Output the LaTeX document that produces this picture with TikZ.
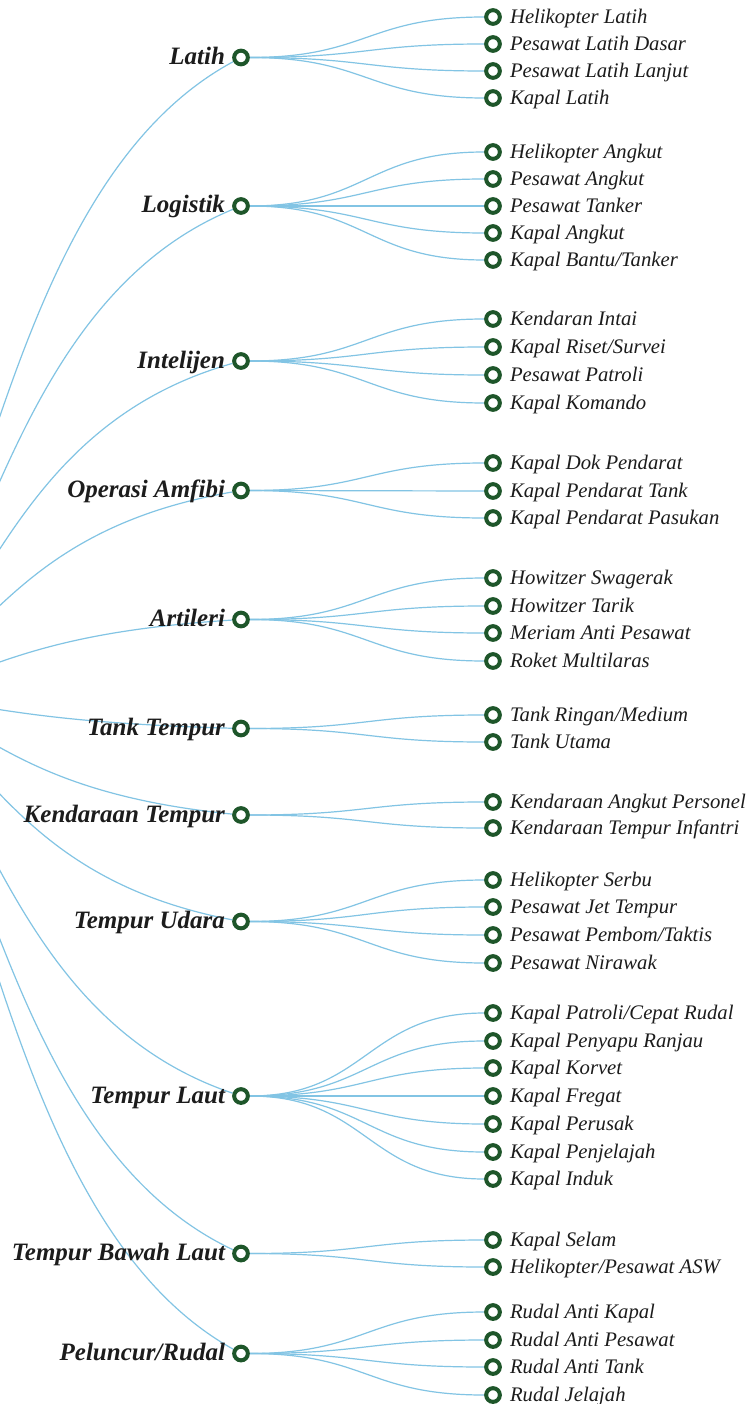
\documentclass[tikz,border=0pt]{standalone}
\usepackage{fontspec}
\setmainfont{Liberation Serif}
\usetikzlibrary{positioning,backgrounds,calc}
\definecolor{ringgreen}{RGB}{30,86,42}
\definecolor{linkblue}{RGB}{130,196,228}
\definecolor{inkblack}{RGB}{28,28,28}
\begin{document}
\begin{tikzpicture}[x=1pt,y=-1pt,
        ring/.style={circle,draw=ringgreen,fill=white,line width=4pt,minimum size=13.7pt,inner sep=0pt},
        cattext/.style={inner sep=0pt,text=inkblack,font=\fontsize{25}{29}\selectfont\bfseries\itshape,text height=16pt,text depth=2pt},
        leaftext/.style={inner sep=0pt,text=inkblack,font=\fontsize{20.7}{24}\selectfont\itshape,text height=15pt,text depth=2pt},
        link/.style={draw=linkblue,line width=1.2pt}]
                        \useasboundingbox (0,0) rectangle (752,1404);
                        \coordinate (root) at (-150,695);

                        \node[ring] (latih) at (241,57.5) {};
                        \node[cattext,left=7pt of latih] (latiht) {Latih};
                        \node[ring] (latih1) at (493,17) {};
                        \node[ring] (latih2) at (493,44) {};
                        \node[ring] (latih3) at (493,71) {};
                        \node[ring] (latih4) at (493,98) {};
                        \node[leaftext,right=8pt of latih1] (latih1t) {Helikopter Latih};
                        \node[leaftext,right=8pt of latih2] (latih2t) {Pesawat Latih Dasar};
                        \node[leaftext,right=8pt of latih3] (latih3t) {Pesawat Latih Lanjut};
                        \node[leaftext,right=8pt of latih4] (latih4t) {Kapal Latih};

                        \node[ring] (logistik) at (241,206) {};
                        \node[cattext,left=7pt of logistik] (logistikt) {Logistik};
                        \node[ring] (logistik1) at (493,152) {};
                        \node[ring] (logistik2) at (493,179) {};
                        \node[ring] (logistik3) at (493,206) {};
                        \node[ring] (logistik4) at (493,233) {};
                        \node[ring] (logistik5) at (493,260) {};
                        \node[leaftext,right=8pt of logistik1] (logistik1t) {Helikopter Angkut};
                        \node[leaftext,right=8pt of logistik2] (logistik2t) {Pesawat Angkut};
                        \node[leaftext,right=8pt of logistik3] (logistik3t) {Pesawat Tanker};
                        \node[leaftext,right=8pt of logistik4] (logistik4t) {Kapal Angkut};
                        \node[leaftext,right=8pt of logistik5] (logistik5t) {Kapal Bantu/Tanker};

                        \node[ring] (intel) at (241,361) {};
                        \node[cattext,left=7pt of intel] (intelt) {Intelijen};
                        \node[ring] (intel1) at (493,319) {};
                        \node[ring] (intel2) at (493,347) {};
                        \node[ring] (intel3) at (493,375) {};
                        \node[ring] (intel4) at (493,403) {};
                        \node[leaftext,right=8pt of intel1] (intel1t) {Kendaran Intai};
                        \node[leaftext,right=8pt of intel2] (intel2t) {Kapal Riset/Survei};
                        \node[leaftext,right=8pt of intel3] (intel3t) {Pesawat Patroli};
                        \node[leaftext,right=8pt of intel4] (intel4t) {Kapal Komando};

                        \node[ring] (amfibi) at (241,490.5) {};
                        \node[cattext,left=7pt of amfibi] (amfibit) {Operasi Amfibi};
                        \node[ring] (amfibi1) at (493,463) {};
                        \node[ring] (amfibi2) at (493,491) {};
                        \node[ring] (amfibi3) at (493,518) {};
                        \node[leaftext,right=8pt of amfibi1] (amfibi1t) {Kapal Dok Pendarat};
                        \node[leaftext,right=8pt of amfibi2] (amfibi2t) {Kapal Pendarat Tank};
                        \node[leaftext,right=8pt of amfibi3] (amfibi3t) {Kapal Pendarat Pasukan};

                        \node[ring] (artileri) at (241,619.5) {};
                        \node[cattext,left=7pt of artileri] (artilerit) {Artileri};
                        \node[ring] (artileri1) at (493,578) {};
                        \node[ring] (artileri2) at (493,606) {};
                        \node[ring] (artileri3) at (493,633) {};
                        \node[ring] (artileri4) at (493,661) {};
                        \node[leaftext,right=8pt of artileri1] (artileri1t) {Howitzer Swagerak};
                        \node[leaftext,right=8pt of artileri2] (artileri2t) {Howitzer Tarik};
                        \node[leaftext,right=8pt of artileri3] (artileri3t) {Meriam Anti Pesawat};
                        \node[leaftext,right=8pt of artileri4] (artileri4t) {Roket Multilaras};

                        \node[ring] (tank) at (241,728.5) {};
                        \node[cattext,left=7pt of tank] (tankt) {Tank Tempur};
                        \node[ring] (tank1) at (493,715) {};
                        \node[ring] (tank2) at (493,742) {};
                        \node[leaftext,right=8pt of tank1] (tank1t) {Tank Ringan/Medium};
                        \node[leaftext,right=8pt of tank2] (tank2t) {Tank Utama};

                        \node[ring] (ranpur) at (241,815) {};
                        \node[cattext,left=7pt of ranpur] (ranpurt) {Kendaraan Tempur};
                        \node[ring] (ranpur1) at (493,802) {};
                        \node[ring] (ranpur2) at (493,828) {};
                        \node[leaftext,right=8pt of ranpur1] (ranpur1t) {Kendaraan Angkut Personel};
                        \node[leaftext,right=8pt of ranpur2] (ranpur2t) {Kendaraan Tempur Infantri};

                        \node[ring] (udara) at (241,921.5) {};
                        \node[cattext,left=7pt of udara] (udarat) {Tempur Udara};
                        \node[ring] (udara1) at (493,880) {};
                        \node[ring] (udara2) at (493,907) {};
                        \node[ring] (udara3) at (493,935) {};
                        \node[ring] (udara4) at (493,963) {};
                        \node[leaftext,right=8pt of udara1] (udara1t) {Helikopter Serbu};
                        \node[leaftext,right=8pt of udara2] (udara2t) {Pesawat Jet Tempur};
                        \node[leaftext,right=8pt of udara3] (udara3t) {Pesawat Pembom/Taktis};
                        \node[leaftext,right=8pt of udara4] (udara4t) {Pesawat Nirawak};

                        \node[ring] (laut) at (241,1096) {};
                        \node[cattext,left=7pt of laut] (lautt) {Tempur Laut};
                        \node[ring] (laut1) at (493,1013) {};
                        \node[ring] (laut2) at (493,1041) {};
                        \node[ring] (laut3) at (493,1068) {};
                        \node[ring] (laut4) at (493,1096) {};
                        \node[ring] (laut5) at (493,1124) {};
                        \node[ring] (laut6) at (493,1152) {};
                        \node[ring] (laut7) at (493,1179) {};
                        \node[leaftext,right=8pt of laut1] (laut1t) {Kapal Patroli/Cepat Rudal};
                        \node[leaftext,right=8pt of laut2] (laut2t) {Kapal Penyapu Ranjau};
                        \node[leaftext,right=8pt of laut3] (laut3t) {Kapal Korvet};
                        \node[leaftext,right=8pt of laut4] (laut4t) {Kapal Fregat};
                        \node[leaftext,right=8pt of laut5] (laut5t) {Kapal Perusak};
                        \node[leaftext,right=8pt of laut6] (laut6t) {Kapal Penjelajah};
                        \node[leaftext,right=8pt of laut7] (laut7t) {Kapal Induk};

                        \node[ring] (bawah) at (241,1253.5) {};
                        \node[cattext,left=7pt of bawah] (bawaht) {Tempur Bawah Laut};
                        \node[ring] (bawah1) at (493,1240) {};
                        \node[ring] (bawah2) at (493,1267) {};
                        \node[leaftext,right=8pt of bawah1] (bawah1t) {Kapal Selam};
                        \node[leaftext,right=8pt of bawah2] (bawah2t) {Helikopter/Pesawat ASW};

                        \node[ring] (rudal) at (241,1353.5) {};
                        \node[cattext,left=7pt of rudal] (rudalt) {Peluncur/Rudal};
                        \node[ring] (rudal1) at (493,1312) {};
                        \node[ring] (rudal2) at (493,1340) {};
                        \node[ring] (rudal3) at (493,1367) {};
                        \node[ring] (rudal4) at (493,1395) {};
                        \node[leaftext,right=8pt of rudal1] (rudal1t) {Rudal Anti Kapal};
                        \node[leaftext,right=8pt of rudal2] (rudal2t) {Rudal Anti Pesawat};
                        \node[leaftext,right=8pt of rudal3] (rudal3t) {Rudal Anti Tank};
                        \node[leaftext,right=8pt of rudal4] (rudal4t) {Rudal Jelajah};

                        \begin{scope}[on background layer]
                        \fill[white] (0,0) rectangle (752,1404);
                        \clip (0,0) rectangle (752,1404);
                        \foreach \c in {latih,logistik,intel,amfibi,artileri,tank,ranpur,udara,laut,bawah,rudal}
                            \draw[link] (root) .. controls +(130,0) and ($(\c)!0.22!(root)+(-175,0)$) .. (\c);

                        \draw[link] (latih) .. controls +(126,0) and +(-126,0) .. (latih1);
                        \draw[link] (latih) .. controls +(126,0) and +(-126,0) .. (latih2);
                        \draw[link] (latih) .. controls +(126,0) and +(-126,0) .. (latih3);
                        \draw[link] (latih) .. controls +(126,0) and +(-126,0) .. (latih4);

                        \draw[link] (logistik) .. controls +(126,0) and +(-126,0) .. (logistik1);
                        \draw[link] (logistik) .. controls +(126,0) and +(-126,0) .. (logistik2);
                        \draw[link] (logistik) .. controls +(126,0) and +(-126,0) .. (logistik3);
                        \draw[link] (logistik) .. controls +(126,0) and +(-126,0) .. (logistik4);
                        \draw[link] (logistik) .. controls +(126,0) and +(-126,0) .. (logistik5);

                        \draw[link] (intel) .. controls +(126,0) and +(-126,0) .. (intel1);
                        \draw[link] (intel) .. controls +(126,0) and +(-126,0) .. (intel2);
                        \draw[link] (intel) .. controls +(126,0) and +(-126,0) .. (intel3);
                        \draw[link] (intel) .. controls +(126,0) and +(-126,0) .. (intel4);

                        \draw[link] (amfibi) .. controls +(126,0) and +(-126,0) .. (amfibi1);
                        \draw[link] (amfibi) .. controls +(126,0) and +(-126,0) .. (amfibi2);
                        \draw[link] (amfibi) .. controls +(126,0) and +(-126,0) .. (amfibi3);

                        \draw[link] (artileri) .. controls +(126,0) and +(-126,0) .. (artileri1);
                        \draw[link] (artileri) .. controls +(126,0) and +(-126,0) .. (artileri2);
                        \draw[link] (artileri) .. controls +(126,0) and +(-126,0) .. (artileri3);
                        \draw[link] (artileri) .. controls +(126,0) and +(-126,0) .. (artileri4);

                        \draw[link] (tank) .. controls +(126,0) and +(-126,0) .. (tank1);
                        \draw[link] (tank) .. controls +(126,0) and +(-126,0) .. (tank2);

                        \draw[link] (ranpur) .. controls +(126,0) and +(-126,0) .. (ranpur1);
                        \draw[link] (ranpur) .. controls +(126,0) and +(-126,0) .. (ranpur2);

                        \draw[link] (udara) .. controls +(126,0) and +(-126,0) .. (udara1);
                        \draw[link] (udara) .. controls +(126,0) and +(-126,0) .. (udara2);
                        \draw[link] (udara) .. controls +(126,0) and +(-126,0) .. (udara3);
                        \draw[link] (udara) .. controls +(126,0) and +(-126,0) .. (udara4);

                        \draw[link] (laut) .. controls +(126,0) and +(-126,0) .. (laut1);
                        \draw[link] (laut) .. controls +(126,0) and +(-126,0) .. (laut2);
                        \draw[link] (laut) .. controls +(126,0) and +(-126,0) .. (laut3);
                        \draw[link] (laut) .. controls +(126,0) and +(-126,0) .. (laut4);
                        \draw[link] (laut) .. controls +(126,0) and +(-126,0) .. (laut5);
                        \draw[link] (laut) .. controls +(126,0) and +(-126,0) .. (laut6);
                        \draw[link] (laut) .. controls +(126,0) and +(-126,0) .. (laut7);

                        \draw[link] (bawah) .. controls +(126,0) and +(-126,0) .. (bawah1);
                        \draw[link] (bawah) .. controls +(126,0) and +(-126,0) .. (bawah2);

                        \draw[link] (rudal) .. controls +(126,0) and +(-126,0) .. (rudal1);
                        \draw[link] (rudal) .. controls +(126,0) and +(-126,0) .. (rudal2);
                        \draw[link] (rudal) .. controls +(126,0) and +(-126,0) .. (rudal3);
                        \draw[link] (rudal) .. controls +(126,0) and +(-126,0) .. (rudal4);
                        \end{scope}
                    \end{tikzpicture}
\end{document}
